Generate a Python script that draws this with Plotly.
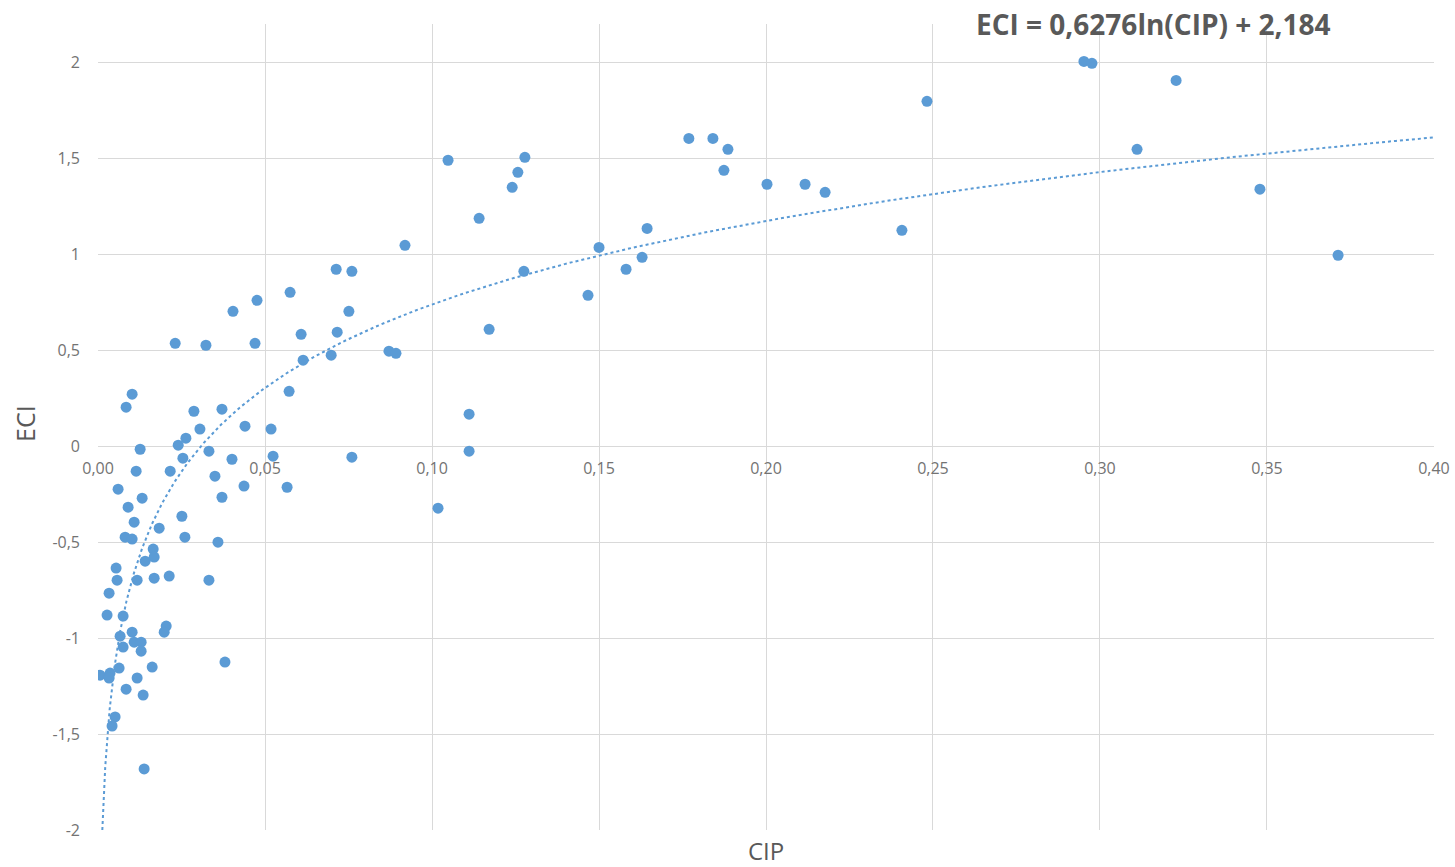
import numpy as np
import plotly.graph_objects as go

# Data
cip = [0.2952, 0.2976, 0.3228, 0.2482, 0.3111, 0.3479, 0.3713, 0.2407, 0.1769, 0.1841,
       0.1886, 0.1874, 0.2003, 0.2117, 0.2177, 0.1644, 0.1500, 0.1629, 0.1581, 0.1467,
       0.1278, 0.1257, 0.1240, 0.1275, 0.1048, 0.1141, 0.1171, 0.0919, 0.1111, 0.1111,
       0.1018, 0.0871, 0.0892, 0.0713, 0.0760, 0.0751, 0.0716, 0.0698, 0.0760, 0.0575,
       0.0608, 0.0614, 0.0572, 0.0518, 0.0524, 0.0566, 0.0476, 0.0470, 0.0404, 0.0323,
       0.0231, 0.0440, 0.0371, 0.0287, 0.0305, 0.0263, 0.0240, 0.0254, 0.0332, 0.0401,
       0.0216, 0.0350, 0.0371, 0.0437, 0.0251, 0.0260, 0.0359, 0.0332, 0.0213, 0.0380,
       0.0183, 0.0165, 0.0168, 0.0141, 0.0168, 0.0117, 0.0204, 0.0198, 0.0162, 0.0135,
       0.0138, 0.0126, 0.0132, 0.0114, 0.0102, 0.0084, 0.0108, 0.0090, 0.0081, 0.0102,
       0.0060, 0.0054, 0.0057, 0.0033, 0.0027, 0.0075, 0.0066, 0.0102, 0.0075, 0.0108,
       0.0129, 0.0129, 0.0063, 0.0117, 0.0084, 0.0006, 0.0036, 0.0033, 0.0051, 0.0042]
eci = [2.005, 1.995, 1.906, 1.797, 1.547, 1.339, 0.995, 1.125, 1.604, 1.604,
       1.547, 1.4375, 1.365, 1.365, 1.323, 1.135, 1.036, 0.984, 0.922, 0.786,
       1.505, 1.427, 1.349, 0.911, 1.490, 1.1875, 0.609, 1.047, 0.167, -0.026,
       -0.323, 0.495, 0.484, 0.922, 0.911, 0.703, 0.594, 0.474, -0.057, 0.802,
       0.583, 0.448, 0.286, 0.089, -0.052, -0.214, 0.760, 0.536, 0.703, 0.526,
       0.536, 0.104, 0.193, 0.182, 0.089, 0.042, 0.005, -0.0625, -0.026, -0.068,
       -0.130, -0.156, -0.266, -0.208, -0.365, -0.474, -0.500, -0.698, -0.677, -1.125,
       -0.427, -0.536, -0.578, -0.599, -0.6875, -0.698, -0.9375, -0.969, -1.151, -1.297,
       -1.682, -0.016, -0.271, -0.130, 0.271, 0.203, -0.396, -0.318, -0.474, -0.484,
       -0.224, -0.635, -0.698, -0.766, -0.880, -0.885, -0.990, -0.969, -1.047, -1.021,
       -1.021, -1.068, -1.156, -1.208, -1.266, -1.193, -1.182, -1.208, -1.411, -1.458]

# Trendline coefficients (as printed on the chart)
coef_a = 0.6276
coef_b = 2.184

x_ticks = [0.0, 0.05, 0.10, 0.15, 0.20, 0.25, 0.30, 0.35, 0.40]
x_ticktext = ["0,00", "0,05", "0,10", "0,15", "0,20", "0,25", "0,30", "0,35", "0,40"]
y_ticks = [-2, -1.5, -1, -0.5, 0, 0.5, 1, 1.5, 2]
y_ticktext = ["-2", "-1,5", "-1", "-0,5", "0", "0,5", "1", "1,5", "2"]

y_range = [-2, 2.2]
x_range = [-0.00002, 0.40002]

x_start = np.exp((y_range[0] - coef_b) / coef_a)
tx = np.geomspace(x_start, 0.40, 400)
ty = coef_a * np.log(tx) + coef_b

blue = "#5B9BD5"
grid = "#D9D9D9"
tick_col = "#737373"
title_col = "#595959"

fig = go.Figure()
fig.add_trace(go.Scatter(x=tx, y=ty, mode="lines",
                         line=dict(color=blue, width=2, dash="dot"),
                         hoverinfo="skip", showlegend=False))
fig.add_trace(go.Scatter(x=cip, y=eci, mode="markers",
                         marker=dict(color=blue, size=11),
                         showlegend=False))

fig.update_layout(
    width=1455, height=867,
    margin=dict(l=98, r=21, t=24, b=37),
    paper_bgcolor="white", plot_bgcolor="white",
    font=dict(family="Open Sans", color=tick_col),
    xaxis=dict(range=x_range, tickvals=x_ticks, ticktext=x_ticktext,
               showgrid=True, gridcolor=grid, gridwidth=1,
               zeroline=False, showline=False, ticks="", automargin=False,
               anchor="free", position=(0 - y_range[0]) / (y_range[1] - y_range[0]),
               tickfont=dict(size=16, color=tick_col), ticklabelstandoff=11),
    yaxis=dict(range=y_range, tickvals=y_ticks, ticktext=y_ticktext,
               showgrid=True, gridcolor=grid, gridwidth=1,
               zeroline=False, showline=False, ticks="", automargin=False,
               tickfont=dict(size=16, color=tick_col), ticklabelstandoff=17),
    annotations=[
        dict(text="<b>ECI = 0,6276ln(CIP) + 2,184</b>", xref="paper", yref="paper",
             x=0.7897, y=1.0, xanchor="center", yanchor="middle", yshift=0, showarrow=False,
             font=dict(size=28, color=title_col, family="Open Sans")),
        dict(text="CIP", xref="paper", yref="paper", x=0.5, y=0, xanchor="center",
             yanchor="middle", yshift=-20, showarrow=False,
             font=dict(size=24, color=title_col)),
        dict(text="ECI", xref="paper", yref="paper", x=0, y=0.5, xanchor="center",
             yanchor="middle", xshift=-73, yshift=3, textangle=-90, showarrow=False,
             font=dict(size=25, color=title_col)),
    ],
)

fig.write_html("out.html", config={"displayModeBar": False},
               post_script="document.body.style.margin='0px';")
